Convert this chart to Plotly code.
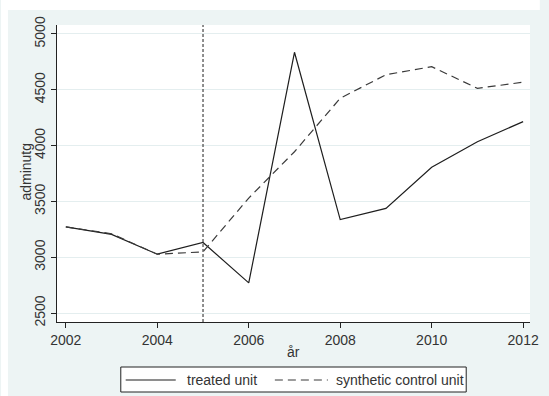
import plotly.graph_objects as go

# Series: administrative outlays, treated unit vs. its synthetic control
years = [2002, 2003, 2004, 2005, 2006, 2007, 2008, 2009, 2010, 2011, 2012]
treated = [3272, 3205, 3027, 3132, 2770, 4836, 3337, 3437, 3806, 4035, 4215]
synthetic = [3272, 3210, 3027, 3048, 3530, 3945, 4424, 4635, 4707, 4513, 4568]
treatment_year = 2005

y_ticks = [2500, 3000, 3500, 4000, 4500, 5000]
x_ticks = [2002, 2004, 2006, 2008, 2010, 2012]
legend_labels = ["treated unit", "synthetic control unit"]
x_title = "år"
y_title = "adminutg"

W, H = 549, 396
ML, MR, MT, MB = 57, 10, 25, 74
PW, PH = W - ML - MR, H - MT - MB

BG = "#EDF4F4"
GRID = "#E4EEEF"
INK = "#333333"
FONT = "Liberation Sans, Arial, sans-serif"


def px(x):
    return (x - ML) / PW


def py(y):
    return (H - MB - y) / PH


fig = go.Figure()
fig.add_trace(go.Scatter(x=years, y=treated, mode="lines", name=legend_labels[0],
                         line=dict(color="#1e1e1e", width=1.2)))
fig.add_trace(go.Scatter(x=years, y=synthetic, mode="lines", name=legend_labels[1],
                         line=dict(color="#3a3a3a", width=1.2, dash="8px,5px")))

shapes = [
    # white strips outside the graph region
    dict(type="rect", xref="paper", yref="paper", x0=px(0), x1=px(W), y0=py(10), y1=py(0),
         fillcolor="white", line_width=0, layer="below"),
    dict(type="rect", xref="paper", yref="paper", x0=px(0), x1=px(7), y0=py(H), y1=py(0),
         fillcolor="white", line_width=0, layer="below"),
    # treatment marker
    dict(type="line", xref="x", yref="paper", x0=treatment_year, x1=treatment_year, y0=0, y1=1,
         line=dict(color="#444444", width=1.2, dash="3px,2px")),
    # legend frame
    dict(type="rect", xref="paper", yref="paper", x0=px(122), x1=px(474), y0=py(392), y1=py(367),
         fillcolor="white", line=dict(color="#222222", width=1)),
    dict(type="line", xref="paper", yref="paper", x0=px(127), x1=px(178), y0=py(380), y1=py(380),
         line=dict(color="#1e1e1e", width=1.2)),
    dict(type="line", xref="paper", yref="paper", x0=px(279), x1=px(333), y0=py(380), y1=py(380),
         line=dict(color="#3a3a3a", width=1.2, dash="8px,5px")),
]

annotations = [
    dict(text=legend_labels[0], xref="paper", yref="paper", x=px(187), y=py(380),
         xanchor="left", yanchor="middle", showarrow=False,
         font=dict(family=FONT, size=14, color=INK)),
    dict(text=legend_labels[1], xref="paper", yref="paper", x=px(339), y=py(380),
         xanchor="left", yanchor="middle", showarrow=False,
         font=dict(family=FONT, size=14, color=INK)),
    dict(text=y_title, xref="paper", yref="paper", x=px(25), y=py(172),
         xanchor="center", yanchor="middle", textangle=-90, showarrow=False,
         font=dict(family=FONT, size=14, color=INK)),
    dict(text=x_title, xref="paper", yref="paper", x=px(298), y=py(352),
         xanchor="center", yanchor="middle", showarrow=False,
         font=dict(family=FONT, size=14, color=INK)),
]

fig.update_layout(
    width=W, height=H,
    margin=dict(l=ML, r=MR, t=MT, b=MB, pad=0),
    paper_bgcolor=BG, plot_bgcolor="white",
    showlegend=False,
    font=dict(family=FONT, size=14, color=INK),
    shapes=shapes, annotations=annotations,
    xaxis=dict(range=[2001.807, 2012.15], tickvals=x_ticks, ticks="outside", ticklen=5,
               tickcolor="#222222", showline=True, linecolor="#222222", linewidth=1,
               showgrid=False, zeroline=False,
               tickfont=dict(size=14, color=INK)),
    yaxis=dict(range=[2419.6, 5080.4], tickvals=y_ticks, ticks="outside", ticklen=5,
               tickcolor="#222222", showline=True, linecolor="#222222", linewidth=1,
               showgrid=True, gridcolor=GRID, gridwidth=1, zeroline=False, tickangle=-90,
               tickfont=dict(size=14, color=INK)),
)

fig.write_html("out.html")
